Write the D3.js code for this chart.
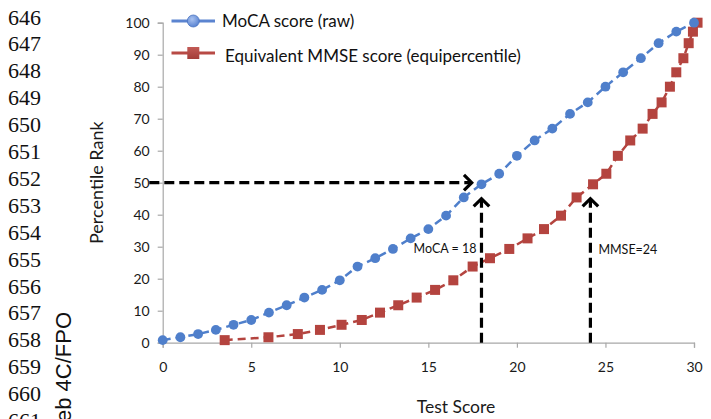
<!DOCTYPE html>
<html><head><meta charset="utf-8">
<script src="https://cdn.jsdelivr.net/npm/d3@7/dist/d3.min.js"></script>
<style>
html,body{margin:0;padding:0;background:#fff;}
svg{display:block;}
</style></head>
<body>
<svg id="chart" width="711" height="419"></svg>
<script>
// ---- data ----
const mocaScores = [0,1,2,3,4,5,6,7,8,9,10,11,12,13,14,15,16,17,18,19,20,21,22,23,24,25,26,27,28,29,30];
const percentileRank = [0.8,1.7,2.7,4.0,5.6,7.1,9.4,11.7,14.1,16.5,19.5,23.8,26.4,29.3,32.6,35.5,39.7,45.4,49.5,52.8,58.4,63.2,66.9,71.5,75.1,80.0,84.5,88.9,93.6,97.2,100];
const mmseEquivalent = [3.5,5.97,7.63,8.88,10.1,11.24,12.27,13.3,14.34,15.38,16.41,17.5,18.48,19.57,20.6,21.53,22.49,23.37,24.3,25.05,25.7,26.4,27.1,27.66,28.17,28.64,29.0,29.4,29.7,29.94,30.2];
const xTicks = [0,5,10,15,20,25,30];
const yTicks = [0,10,20,30,40,50,60,70,80,90,100];
const seriesNames = ["MoCA score (raw)", "Equivalent MMSE score (equipercentile)"];
const lineNumbers = ["646","647","648","649","650","651","652","653","654","655","656","657","658","659","660","661"];
const mocaCut = 18, mmseCut = 24.15, cutPercentile = 50, arrowTip = 45;

// ---- drawing ----
const svg = d3.select("#chart");
const x = d3.scaleLinear().domain([0,30]).range([162.7,694]);
const y = d3.scaleLinear().domain([0,100]).range([342.7,22.7]);
const FONT = "Lato, 'Open Sans', sans-serif";
const blue = "#4F7FCB", red = "#B4443F";

// page line numbers
const ln = d3.scaleLinear().domain([0,1]).range([24.5,51.4]);
svg.append("g").selectAll("text").data(lineNumbers).join("text")
  .attr("x",8).attr("y",(d,i)=>ln(i))
  .attr("font-family","'Liberation Serif', 'DejaVu Serif', serif")
  .attr("font-size",22).attr("fill","#111").text(d=>d);

svg.append("text").attr("transform","translate(71,312) rotate(-90)")
  .attr("text-anchor","end").attr("font-family","'Liberation Sans', Arial, sans-serif")
  .attr("font-size",22).attr("fill","#111").text("Web 4C/FPO");

// axes
const yAxis = d3.axisLeft(y).tickValues(yTicks).tickSize(5).tickPadding(8);
const gy = svg.append("g").attr("transform",`translate(${x(0)},0)`).call(yAxis);
const xAxis = d3.axisBottom(x).tickValues(xTicks).tickSize(5).tickPadding(14);
const gx = svg.append("g").attr("transform",`translate(0,${y(0)})`).call(xAxis);
[gx,gy].forEach(g=>{
  g.select(".domain").attr("stroke","#A8A8A8").attr("stroke-width",1.2);
  g.selectAll(".tick line").attr("stroke","#A8A8A8").attr("stroke-width",1.2);
  g.selectAll(".tick text").attr("font-family",FONT).attr("font-size",14).attr("fill","#1a1a1a");
});

// axis titles
svg.append("text").attr("transform",`translate(103,${y(50)}) rotate(-90)`)
  .attr("text-anchor","middle").attr("font-family",FONT).attr("font-size",18).attr("fill","#1a1a1a")
  .text("Percentile Rank");
svg.append("text").attr("x",456).attr("y",413).attr("text-anchor","middle")
  .attr("font-family",FONT).attr("font-size",17.5).attr("fill","#1a1a1a").text("Test Score");

// series
const blueData = mocaScores.map((s,i)=>({x:s,y:percentileRank[i]}));
const redData = mmseEquivalent.map((m,i)=>({x:m,y:percentileRank[i]}));
const line = d3.line().x(d=>x(d.x)).y(d=>y(d.y));

svg.append("path").datum(redData).attr("d",line).attr("fill","none")
  .attr("stroke",red).attr("stroke-width",2.5).attr("stroke-dasharray","8,5");
svg.append("g").selectAll("rect").data(redData).join("rect")
  .attr("x",d=>x(d.x)-5).attr("y",d=>y(d.y)-5).attr("width",10).attr("height",10)
  .attr("fill",red);

svg.append("path").datum(blueData).attr("d",line).attr("fill","none")
  .attr("stroke",blue).attr("stroke-width",2.5).attr("stroke-dasharray","8,5");
svg.append("g").selectAll("circle").data(blueData).join("circle")
  .attr("cx",d=>x(d.x)).attr("cy",d=>y(d.y)).attr("r",4.9).attr("fill",blue);

// annotation arrows
function arrow(x1,y1,x2,y2){
  svg.append("line").attr("x1",x1).attr("y1",y1).attr("x2",x2).attr("y2",y2)
    .attr("stroke","#000").attr("stroke-width",3.2).attr("stroke-dasharray","10,5");
  const a = Math.atan2(y2-y1,x2-x1), L=11, w=Math.PI/4;
  const p = `M${x2-L*Math.cos(a-w)},${y2-L*Math.sin(a-w)} L${x2},${y2} L${x2-L*Math.cos(a+w)},${y2-L*Math.sin(a+w)}`;
  svg.append("path").attr("d",p).attr("fill","none").attr("stroke","#000").attr("stroke-width",3.2)
    .attr("stroke-linejoin","miter");
}
arrow(149.3, y(cutPercentile), x(17.45), y(cutPercentile));
arrow(x(mocaCut), y(0), x(mocaCut), y(arrowTip));
arrow(x(mmseCut), y(0), x(mmseCut), y(arrowTip));

svg.append("text").attr("x",x(mocaCut)-5).attr("y",253).attr("text-anchor","end")
  .attr("font-family",FONT).attr("font-size",12.5).attr("fill","#111").text("MoCA = " + mocaCut);
svg.append("text").attr("x",x(mmseCut)+8).attr("y",254)
  .attr("font-family",FONT).attr("font-size",12.5).attr("fill","#111").text("MMSE=24");

// legend
const defs = svg.append("defs");
const gb = defs.append("radialGradient").attr("id","gb").attr("cx","40%").attr("cy","35%").attr("r","65%");
gb.append("stop").attr("offset","0%").attr("stop-color","#A9C2F0");
gb.append("stop").attr("offset","100%").attr("stop-color","#5A84D2");
const gr = defs.append("linearGradient").attr("id","gr").attr("x1","0").attr("y1","0").attr("x2","0").attr("y2","1");
gr.append("stop").attr("offset","0%").attr("stop-color","#C25A55");
gr.append("stop").attr("offset","100%").attr("stop-color","#A33D39");

const legY = [21, 53];
const lg = svg.append("g");
lg.append("line").attr("x1",171.5).attr("x2",215).attr("y1",legY[0]).attr("y2",legY[0])
  .attr("stroke","#5B84D0").attr("stroke-width",3);
lg.append("circle").attr("cx",193.3).attr("cy",legY[0]).attr("r",6).attr("fill","url(#gb)")
  .attr("stroke","#4A74C0").attr("stroke-width",0.8);
lg.append("line").attr("x1",171.5).attr("x2",215).attr("y1",legY[1]).attr("y2",legY[1])
  .attr("stroke","#B84A45").attr("stroke-width",3);
lg.append("rect").attr("x",187.3).attr("y",legY[1]-6).attr("width",12).attr("height",12).attr("fill","url(#gr)");
lg.append("text").attr("x",222).attr("y",legY[0]+6).attr("font-family",FONT).attr("font-size",17)
  .attr("fill","#111").text(seriesNames[0]);
lg.append("text").attr("x",225).attr("y",legY[1]+9).attr("font-family",FONT).attr("font-size",17)
  .attr("fill","#111").text(seriesNames[1]);
</script>
</body></html>
